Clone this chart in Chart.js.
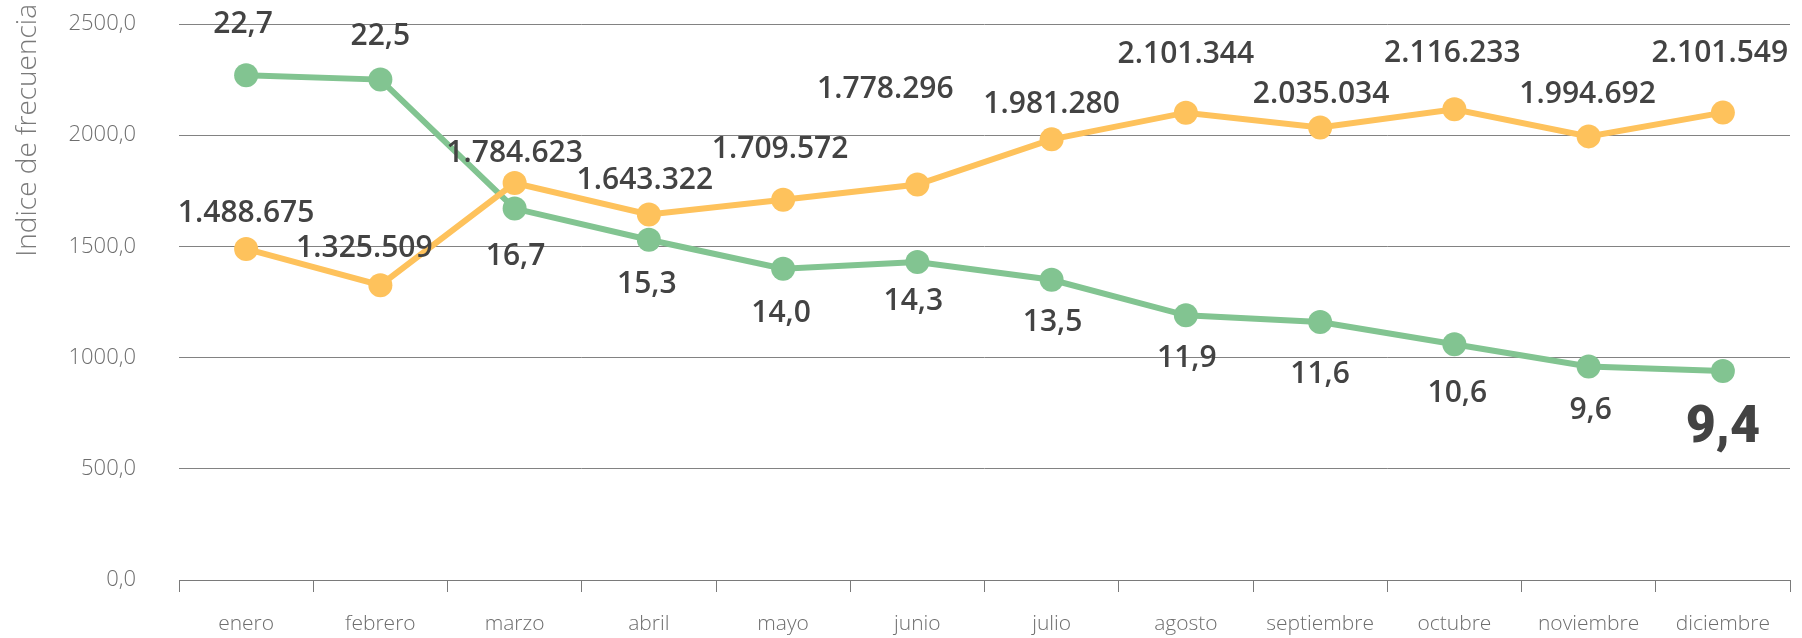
<!DOCTYPE html>
<html>
<head>
<meta charset="utf-8">
<script src="https://cdn.jsdelivr.net/npm/chart.js@4/dist/chart.umd.min.js"></script>
<style>
  html, body { margin: 0; padding: 0; background: #fff; }
  canvas { display: block; }
</style>
</head>
<body>
<canvas id="grafico" width="1802" height="638"></canvas>
<script>
const meses = ['enero', 'febrero', 'marzo', 'abril', 'mayo', 'junio', 'julio', 'agosto', 'septiembre', 'octubre', 'noviembre', 'diciembre'];
const indiceFrecuencia = [22.7, 22.5, 16.7, 15.3, 14.0, 14.3, 13.5, 11.9, 11.6, 10.6, 9.6, 9.4];
const totalMensual = [1488675, 1325509, 1784623, 1643322, 1709572, 1778296, 1981280, 2101344, 2035034, 2116233, 1994692, 2101549];
const ejeTicks = [0, 500, 1000, 1500, 2000, 2500];

// where each value label sits, relative to its point (px)
const posVerde = [[-3, -42], [0, -35], [1, 56], [-2, 53], [-2, 53], [-4, 48], [1, 51], [1, 52], [0, 61], [3, 58], [2, 53], [0, 71]];
const posNaranja = [[0, -27], [-16, -28], [0, -21], [-4, -26], [-3, -42], [-32, -87], [0, -26], [0, -50], [1, -24], [-2, -47], [-1, -33], [-3, -51]];
const destacado = 11; // last month label in heavy type

const VERDE = '#82c491';
const NARANJA = '#fec25c';
const GRIS = '#6e6e6e';
const FUENTE = "'Open Sans', 'Noto Sans', sans-serif";

function decimal(v) { return v.toFixed(1).replace('.', ','); }
function miles(v) { return String(v).replace(/\B(?=(\d{3})+(?!\d))/g, '.'); }

const etiquetas = {
  id: 'etiquetas',
  afterDatasetsDraw(chart) {
    const ctx = chart.ctx;
    ctx.save();
    ctx.fillStyle = '#434343';
    ctx.textAlign = 'center';
    ctx.textBaseline = 'alphabetic';
    chart.data.datasets.forEach((ds, d) => {
      const meta = chart.getDatasetMeta(d);
      const verde = ds.yAxisID === 'yVerde';
      meta.data.forEach((pt, i) => {
        const off = verde ? posVerde[i] : posNaranja[i];
        if (verde && i === destacado) {
          ctx.font = "900 52px Roboto, 'DejaVu Sans', sans-serif";
        } else {
          ctx.font = '600 30px ' + FUENTE;
        }
        const txt = verde ? decimal(ds.data[i]) : miles(ds.data[i]);
        ctx.fillText(txt, pt.x + off[0], pt.y + off[1]);
      });
    });
    ctx.restore();
  }
};

const tituloEje = {
  id: 'tituloEje',
  afterDraw(chart) {
    const ctx = chart.ctx;
    ctx.save();
    ctx.translate(36, 4);
    ctx.rotate(-Math.PI / 2);
    ctx.font = '300 28px ' + FUENTE;
    ctx.fillStyle = '#7a7a7a';
    ctx.textAlign = 'right';
    ctx.textBaseline = 'alphabetic';
    ctx.fillText('Indice de frecuencia', 0, 0);
    ctx.restore();
  }
};

new Chart(document.getElementById('grafico'), {
  type: 'line',
  data: {
    labels: meses,
    datasets: [
      {
        label: 'total',
        data: totalMensual,
        yAxisID: 'yNaranja',
        borderColor: NARANJA,
        backgroundColor: NARANJA,
        pointBackgroundColor: NARANJA,
        borderWidth: 6,
        pointRadius: 12,
        pointBorderWidth: 0,
        tension: 0
      },
      {
        label: 'Indice de frecuencia',
        data: indiceFrecuencia,
        yAxisID: 'yVerde',
        borderColor: VERDE,
        backgroundColor: VERDE,
        pointBackgroundColor: VERDE,
        borderWidth: 6,
        pointRadius: 12,
        pointBorderWidth: 0,
        tension: 0
      }
    ]
  },
  options: {
    responsive: false,
    animation: false,
    layout: { padding: { top: 24, right: 7, left: 0, bottom: 0 } },
    plugins: { legend: { display: false }, tooltip: { enabled: false } },
    scales: {
      x: {
        offset: true,
        grid: { drawOnChartArea: false, drawTicks: true, tickLength: 12, offset: true, color: '#7a7a7a' },
        border: { display: true, color: '#7a7a7a' },
        ticks: { color: GRIS, font: { family: FUENTE, size: 21, weight: 300 }, padding: 19, maxRotation: 0 },
        afterFit(s) { s.height = 58; }
      },
      y: {
        position: 'left',
        min: ejeTicks[0],
        max: ejeTicks[ejeTicks.length - 1],
        afterBuildTicks(s) { s.ticks = ejeTicks.map(v => ({ value: v })); },
        grid: { drawTicks: true, tickLength: 43, tickColor: 'rgba(0,0,0,0)', color: '#828282' },
        border: { display: false },
        ticks: {
          color: GRIS,
          font: { family: FUENTE, size: 22, weight: 300 },
          padding: 0,
          callback: v => decimal(v)
        },
        afterFit(s) { s.width = 179; }
      },
      yVerde: { display: false, min: 0, max: 25 },
      yNaranja: { display: false, min: 0, max: 2500000 }
    }
  },
  plugins: [etiquetas, tituloEje]
});
</script>
</body>
</html>
